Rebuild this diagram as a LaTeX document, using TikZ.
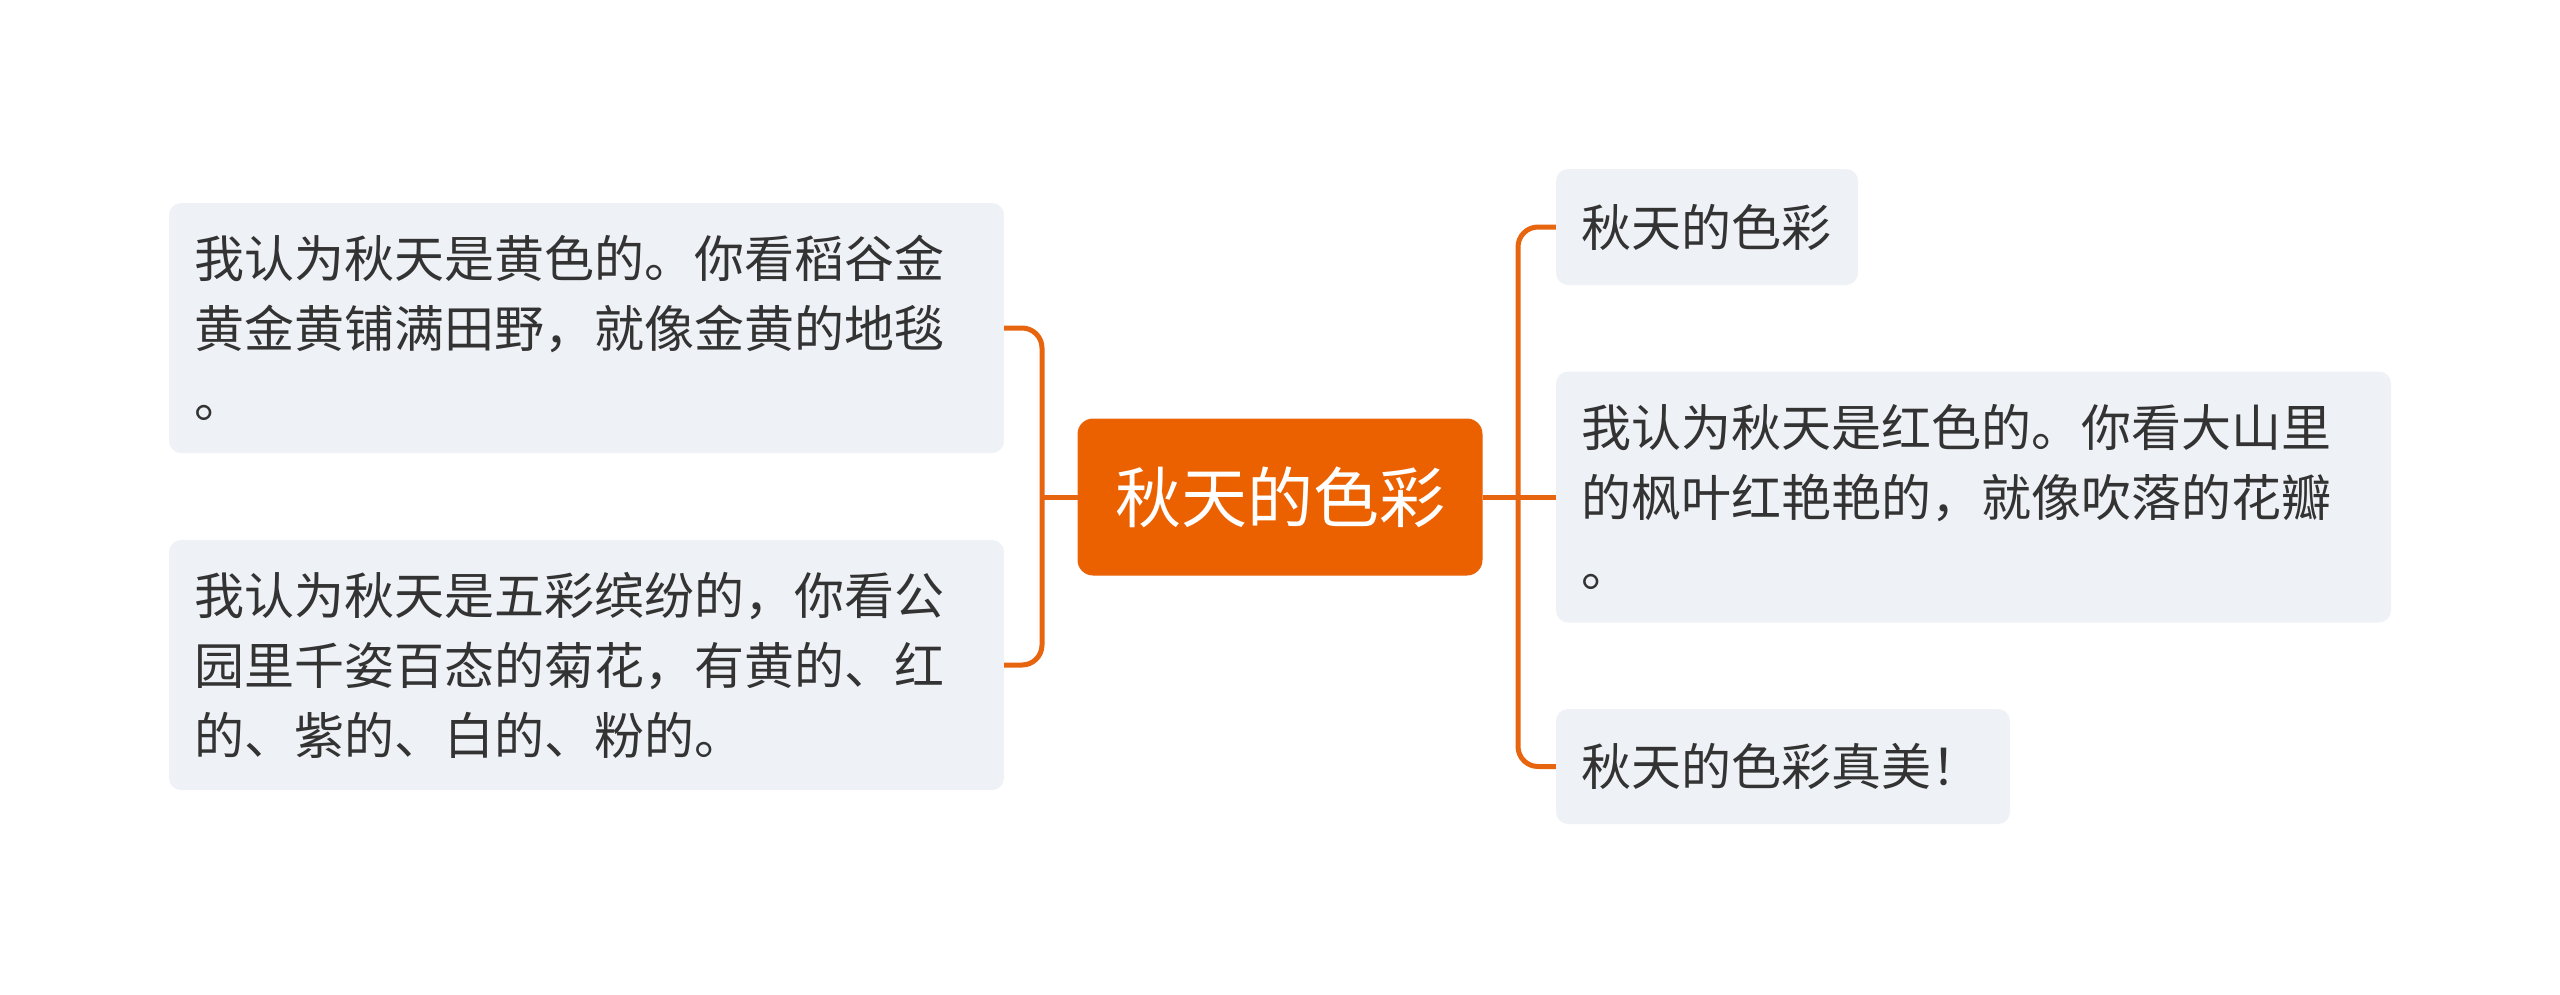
\documentclass[tikz,border=0pt]{standalone}
\usepackage{fontspec}
\setmainfont{Noto Sans CJK SC}
\definecolor{orangeM}{HTML}{EB6100}
\definecolor{lineO}{HTML}{E8650F}
\definecolor{boxG}{HTML}{EEF1F5}
\definecolor{txtG}{HTML}{333333}
\tikzset{
  leaf/.style={fill=boxG, rounded corners=12pt, inner xsep=25pt, inner ysep=0pt,
    align=left, text=txtG, font=\fontsize{50}{70}\selectfont, anchor=center},
  rootbox/.style={fill=orangeM, draw=lineO, line width=1pt, rounded corners=15pt,
    text=white, font=\fontsize{66}{80}\selectfont, minimum width=404pt, minimum height=156pt, inner sep=0pt},
  conn/.style={draw=lineO, line width=5pt, rounded corners=20pt}
}
\begin{document}
\begin{tikzpicture}[x=1pt,y=-1pt]
\useasboundingbox (0,0) rectangle (2560,994);
\node[rootbox] (root) at (1280,497) {秋天的色彩};
\node[leaf, text width=785pt, minimum height=250pt] (ltop) at (586.5,328)
  {我认为秋天是黄色的。你看稻谷金\\黄金黄铺满田野，就像金黄的地毯\\。};
\node[leaf, text width=785pt, minimum height=250pt] (lbot) at (586.5,665)
  {我认为秋天是五彩缤纷的，你看公\\园里千姿百态的菊花，有黄的、红\\的、紫的、白的、粉的。};
\node[leaf, text width=252pt, minimum height=116pt] (r1) at (1707,227) {秋天的色彩};
\node[leaf, text width=785pt, minimum height=251pt] (r2) at (1973.5,497)
  {我认为秋天是红色的。你看大山里\\的枫叶红艳艳的，就像吹落的花瓣\\。};
\node[leaf, text width=404pt, minimum height=115pt] (r3) at (1783,766.5) {秋天的色彩真美！};
\coordinate (jl) at (1042,497);
\coordinate (jr) at (1518,497);
\draw[conn] (ltop.east) -- (jl|-ltop.east) -- (jl|-lbot.east) -- (lbot.east);
\draw[conn, rounded corners=0pt] (root.west) -- (jl);
\draw[conn] (r1.west) -- (jr|-r1.west) -- (jr|-r3.west) -- (r3.west);
\draw[conn, rounded corners=0pt] (root.east) -- (r2.west);
\end{tikzpicture}
\end{document}
